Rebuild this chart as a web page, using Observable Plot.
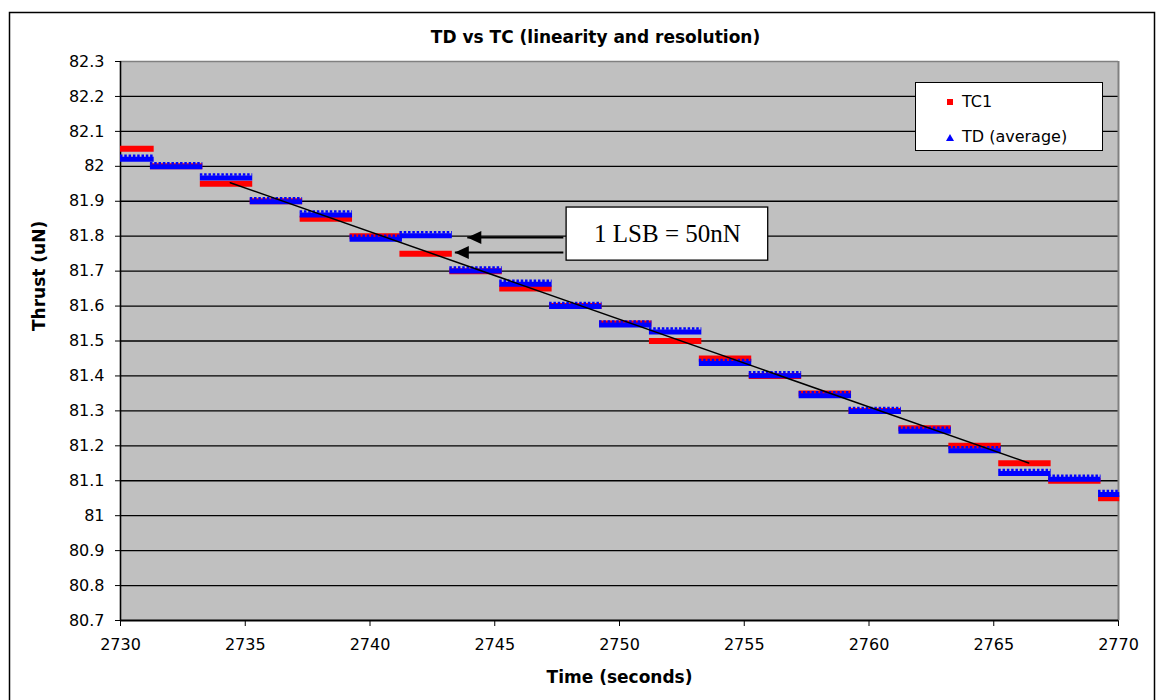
<!DOCTYPE html>
<html><head><meta charset="utf-8">
<script src="https://cdn.jsdelivr.net/npm/d3@7"></script>
<script src="https://cdn.jsdelivr.net/npm/@observablehq/plot@0.6"></script>
<style>
body{margin:0;background:#fff;}
#wrap{position:relative;width:1162px;height:700px;overflow:hidden;}
#legend{position:absolute;left:915px;top:82px;width:186px;height:67px;background:#fff;border:1px solid #000;font-family:"DejaVu Sans",sans-serif;font-size:16px;color:#000;}
#legend .lbl{position:absolute;left:46px;line-height:20px;white-space:nowrap;}
#legend .sq{position:absolute;left:31px;top:16px;width:6px;height:6px;background:#ff0000;}
#legend .tri{position:absolute;left:30px;top:51px;width:0;height:0;border-left:4px solid transparent;border-right:4px solid transparent;border-bottom:7px solid #0000ff;}
</style></head><body>
<div id="wrap"></div>
<script>
// ---- data ----
const segStart = [2730, 2731.2, 2733.2, 2735.2, 2737.2, 2739.2, 2741.2, 2743.2, 2745.2, 2747.2, 2749.2,
                  2751.2, 2753.2, 2755.2, 2757.2, 2759.2, 2761.2, 2763.2, 2765.2, 2767.2, 2769.2];
const segEnd   = [2731.35, 2733.3, 2735.3, 2737.3, 2739.3, 2741.3, 2743.3, 2745.3, 2747.3, 2749.3, 2751.3,
                  2753.3, 2755.3, 2757.3, 2759.3, 2761.3, 2763.3, 2765.3, 2767.3, 2769.3, 2770.05];
const tc1 = [82.05, 82.00, 81.95, 81.90, 81.85, 81.80, 81.75, 81.70, 81.65, 81.60, 81.55,
             81.50, 81.45, 81.40, 81.35, 81.30, 81.25, 81.20, 81.15, 81.10, 81.05];
const tdAvg = [82.022, 82.00, 81.968, 81.90, 81.862, 81.793, 81.803, 81.702, 81.664, 81.60, 81.547,
               81.527, 81.437, 81.402, 81.345, 81.30, 81.243, 81.187, 81.122, 81.106, 81.062];
const trendT = [2734.4, 2766.4];
const trendV = [81.953, 81.151];
const xTicks = [2730, 2735, 2740, 2745, 2750, 2755, 2760, 2765, 2770];
const yTicks = [80.7, 80.8, 80.9, 81, 81.1, 81.2, 81.3, 81.4, 81.5, 81.6, 81.7, 81.8, 81.9, 82, 82.1, 82.2, 82.3];
const gridTicks = [80.8, 80.9, 81, 81.1, 81.2, 81.3, 81.4, 81.5, 81.6, 81.7, 81.8, 81.9, 82, 82.1, 82.2];
const titleText = "TD vs TC (linearity and resolution)";
const xLabel = "Time (seconds)";
const yLabel = "Thrust (uN)";
const seriesNames = ["TC1", "TD (average)"];
// annotation
const noteText = "1 LSB = 50nN";
const noteBox = {x1: 2747.88, x2: 2755.96, y1: 81.730, y2: 81.882, tx: 2751.92, ty: 81.806};
const arrowTip = [2743.9, 2743.4];
const arrowTail = [2747.75, 2747.75];
const arrowY = [81.796, 81.753];

// ---- build ----
const segs = segStart.map((s, i) => ({x1: s, x2: segEnd[i], tc: tc1[i], td: tdAvg[i]}));
const trend = trendT.map((t, i) => ({t, v: trendV[i]}));
const arrows = arrowTip.map((t, i) => ({tip: t, tail: arrowTail[i], y: arrowY[i]}));
const leftHead = {draw(ctx) { ctx.moveTo(0, 0); ctx.lineTo(14, -6.5); ctx.lineTo(14, 6.5); ctx.closePath(); }};

const chart = Plot.plot({
  width: 1162, height: 700,
  marginTop: 61, marginBottom: 80, marginLeft: 120, marginRight: 44,
  style: {fontFamily: "'DejaVu Sans', sans-serif", fontSize: "16px", background: "transparent", color: "#000", overflow: "visible"},
  x: {domain: [2730, 2770], ticks: xTicks, tickFormat: d => String(d), tickSize: 6, tickPadding: 12, label: null},
  y: {domain: [80.7, 82.3], ticks: yTicks, tickFormat: d => String(d), tickSize: 5, tickPadding: 11, label: null},
  marks: [
    Plot.frame({fill: "#c0c0c0", stroke: "none"}),
    Plot.ruleY(gridTicks, {stroke: "#000", strokeWidth: 1.3}),
    Plot.ruleY([82.3], {stroke: "#808080", strokeWidth: 1.5}),
    Plot.ruleX([2770], {stroke: "#808080", strokeWidth: 2}),
    Plot.ruleY([80.7], {stroke: "#000", strokeWidth: 2}),
    Plot.ruleX([2730], {stroke: "#000", strokeWidth: 1.6}),
    Plot.ruleY(segs, {y: "tc", x1: "x1", x2: "x2", stroke: "#ff0000", strokeWidth: 6}),
    Plot.ruleY(segs, {y: "td", x1: "x1", x2: "x2", stroke: "#0000ff", strokeWidth: 5, dy: 0.5}),
    Plot.ruleY(segs, {y: "td", x1: "x1", x2: "x2", stroke: "#0000ff", strokeWidth: 2.5, dy: -3, strokeDasharray: "2.5,1.8"}),
    Plot.line(trend, {x: "t", y: "v", stroke: "#000", strokeWidth: 1.5}),
    Plot.rect([noteBox], {x1: "x1", x2: "x2", y1: "y1", y2: "y2", fill: "#fff", stroke: "#000", strokeWidth: 1.3}),
    Plot.text([noteBox], {x: "tx", y: "ty", text: () => noteText, fontFamily: "'Liberation Serif', serif", fontSize: 25, fill: "#000"}),
    Plot.link(arrows, {x1: "tail", x2: "tip", y1: "y", y2: "y", stroke: "#000", strokeWidth: 2}),
    Plot.dot(arrows, {x: "tip", y: "y", symbol: leftHead, r: 5, fill: "#000", stroke: "none"}),
    Plot.text([titleText], {text: d => d, frameAnchor: "top", dy: -31, dx: -24, fontWeight: "bold", fontSize: 17}),
    Plot.text([xLabel], {text: d => d, frameAnchor: "bottom", dy: 62, fontWeight: "bold", fontSize: 17}),
    Plot.text([yLabel], {text: d => d, frameAnchor: "left", dx: -81, dy: -10, rotate: -90, fontWeight: "bold", fontSize: 17})
  ]
});
d3.select(chart).append("rect")
  .attr("x", 9.5).attr("y", 12.5).attr("width", 1145).attr("height", 720)
  .attr("fill", "none").attr("stroke", "#000").attr("stroke-width", 1.5);

const wrap = document.getElementById("wrap");
wrap.appendChild(chart);
const legend = document.createElement("div");
legend.id = "legend";
legend.innerHTML = `<div class="sq"></div><div class="lbl" style="top:9px">${seriesNames[0]}</div>
<div class="tri"></div><div class="lbl" style="top:44px">${seriesNames[1]}</div>`;
wrap.appendChild(legend);
</script>
</body></html>
